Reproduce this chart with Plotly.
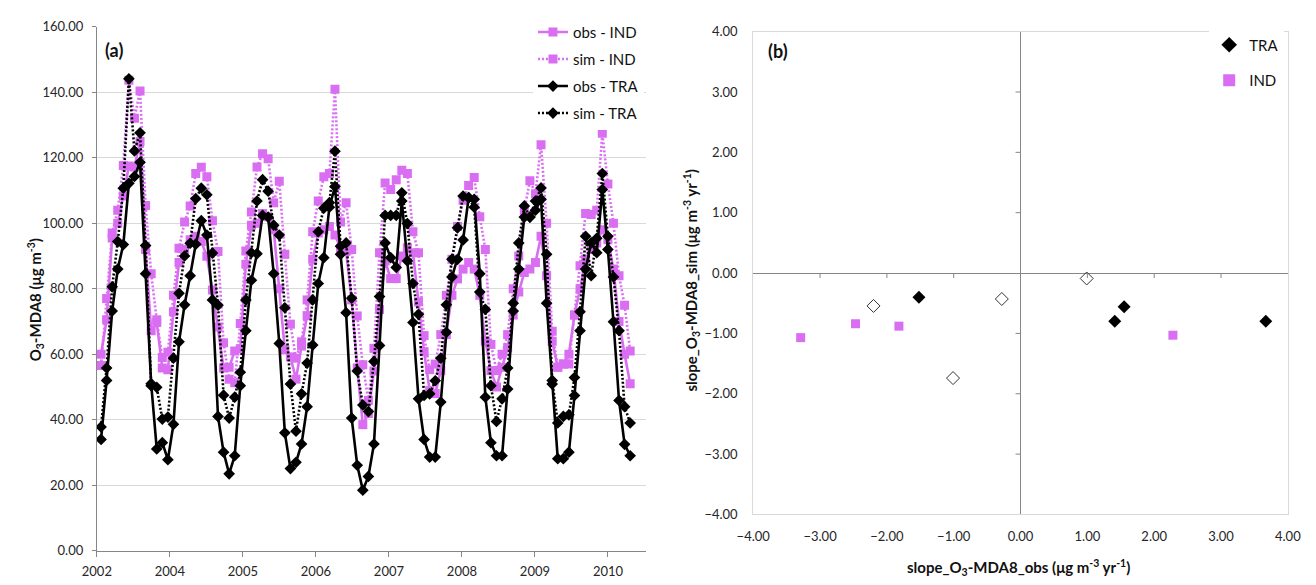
import plotly.graph_objects as go

W, H = 1316, 585

# ---------------- Panel (a): monthly O3-MDA8 series ----------------
obs_tra = [34, 52, 73.2, 86, 93.5, 112.2, 114.3, 118.6, 84.6, 51, 31.1, 33, 27.8,
           38.6, 63.8, 75.1, 84, 93.6, 100.8, 96.4, 76.6, 41, 30.1, 23.5,
           29, 50.4, 67.2, 82.6, 90.7, 102.4, 101.9, 84.6, 63.3, 36, 25.1,
           27, 32.6, 44, 62.8, 81.6, 89.5, 104.9, 111.2, 90.5, 72.7, 40.5, 26.1, 18.5,
           22.7, 32.6, 62.7, 94, 89.5, 86.5, 106.8, 88.5, 69.7, 46.4, 34, 28.6, 28.6,
           45.4, 66.7, 83.6, 89, 94.9, 107.8, 107.3, 84.6, 46.9, 33, 29, 29,
           49.4, 73.2, 86, 101.9, 101.9, 104, 107.3, 75.6, 50.9, 28.1, 28.1,
           30.1, 47.4, 67.2, 86, 94, 91, 110.3, 92, 69.9, 45.9, 32.5, 29]
sim_tra = [37.8, 55.8, 80.6, 94.4, 110.7, 144.1, 122.1, 127.6, 93.2, 50.4, 49.9, 40.2, 40.8,
           58.8, 78.6, 90, 93.9, 107.5, 110.7, 108.7, 90.9, 75, 47.5, 40.5,
           46.9, 54.5, 76.6, 91, 106.8, 113.3, 109.8, 99.4, 96.4, 74.2, 50.9,
           36.5, 47.9, 57.3, 76.6, 97.4, 104.6, 106.3, 122, 93, 94, 77.1, 54.9, 44.5,
           42.5, 57.8, 77.6, 102.4, 102.4, 102.4, 109.3, 99.9, 81.6, 72.2, 47.4, 47.9, 51.9,
           58.8, 75.1, 89, 98.6, 108.3, 107.8, 104.9, 79, 73.7, 50.4, 39.5, 46.4,
           55.8, 75.6, 94, 105.3, 101.9, 106.8, 110.8, 90.5, 52, 39, 41,
           41.5, 52.9, 73, 96, 84, 95.4, 115.2, 96, 83.6, 67.2, 44, 39]
obs_ind = [60, 70.5, 95.5, 100, 108.3, 117.5, 117.2, 125, 92, 67.2, 69.7, 55.8, 55.3,
           73, 88, 92, 95, 96, 94.4, 89.9, 79.6, 68.3, 55.8, 56,
           61, 61.7, 87.5, 99.4, 100, 103, 102, 98, 80, 61.4, 59.2,
           52.4, 62.5, 71.8, 89, 97, 98, 99, 96.4, 92.4, 91.4, 76.6, 55.8, 38.5,
           41.9, 54.9, 73.7, 88.5, 83.1, 83.1, 90, 92.5, 91, 76, 60.8, 48.9, 48,
           55, 66, 78, 83, 86, 88, 86, 78, 64, 55, 50, 56,
           62, 72, 79, 85, 86, 88, 96, 84, 64, 56, 57,
           60, 72, 80, 89, 92, 94, 98, 95, 86, 70, 60, 51]
sim_ind = [56.6, 77, 97, 104, 117.6, 143.7, 132.1, 140.4, 105.4, 84.6, 70.5, 59, 60.6,
           78, 92.4, 100.4, 105.3, 115.2, 117.1, 114.2, 100.8, 91.4, 63.5, 52.4,
           51.3, 69.4, 91.5, 103.4, 117.2, 121.2, 119.7, 106.3, 112.8, 90.5, 69.2,
           58.8, 63.8, 76.6, 97.4, 106.8, 114.2, 115.2, 140.9, 100.4, 106.3, 92, 71.7, 56.8,
           45.9, 61.8, 91, 112.3, 110.3, 113.3, 116.2, 115.2, 97.4, 91, 65.7, 55.3, 57,
           66, 78, 89, 99, 107, 111.5, 114, 102, 92, 63, 55, 60,
           66, 80, 90, 104, 113, 109, 124, 100, 67, 56, 57,
           57, 72, 87, 103, 102.7, 104, 127.5, 112, 100, 84, 75, 61]
year_labels = ["2002", "2004", "2005", "2006", "2007", "2008", "2009", "2010"]

# ---------------- Panel (b): slopes ----------------
tra_obs_slope = [-1.52, 1.41, 1.55, 3.67]
tra_sim_slope = [-0.40, -0.80, -0.56, -0.80]
ind_obs_slope = [-3.29, -2.47, -1.82, 2.28]
ind_sim_slope = [-1.07, -0.84, -0.88, -1.03]
oth_obs_slope = [-2.20, -1.01, -0.28, 0.99]
oth_sim_slope = [-0.545, -1.74, -0.43, -0.09]

PINK = "#DA6EF2"
BLACK = "#000000"
FONT = "Lato"

idx = list(range(len(obs_tra)))
first_tick, label_step = -0.755, 13.11
tick_pos = [first_tick + k * label_step for k in range(len(year_labels))]

fig = go.Figure()

def series(y, name, color, dash, symbol, size):
    fig.add_trace(go.Scatter(
        x=idx, y=y, name=name, mode="lines+markers",
        line=dict(color=color, width=2.6, dash=dash),
        marker=dict(symbol=symbol, size=size, color=color, line=dict(width=0)),
        xaxis="x", yaxis="y", legend="legend", legendgroup=name))

series(obs_ind, "obs - IND", PINK, "solid", "square", 9)
series(sim_ind, "sim - IND", PINK, "2px,2px", "square", 9)
series(obs_tra, "obs - TRA", BLACK, "solid", "diamond", 9)
series(sim_tra, "sim - TRA", BLACK, "2px,2px", "diamond", 9)

fig.add_trace(go.Scatter(x=tra_obs_slope, y=tra_sim_slope, mode="markers", name="TRA",
                         marker=dict(symbol="diamond", size=10, color=BLACK),
                         xaxis="x2", yaxis="y2", legend="legend2", legendgroup="TRA"))
fig.add_trace(go.Scatter(x=ind_obs_slope, y=ind_sim_slope, mode="markers", name="IND",
                         marker=dict(symbol="square", size=9, color=PINK),
                         xaxis="x2", yaxis="y2", legend="legend2", legendgroup="IND"))
fig.add_trace(go.Scatter(x=oth_obs_slope, y=oth_sim_slope, mode="markers", name="other",
                         marker=dict(symbol="diamond-open", size=10, color="#333333",
                                     line=dict(width=1)),
                         xaxis="x2", yaxis="y2", showlegend=False))

def px(xp):
    return xp / W

def py(yp):
    return 1 - yp / H

AX = "#868686"
GRID = "#D9D9D9"
TXT = "#262626"

shapes = []
for t in [-3, -2, -1, 1, 2, 3]:
    shapes.append(dict(type="line", xref="x2", yref="y2", x0=t, x1=t,
                       ysizemode="pixel", yanchor=0, y0=0, y1=-5,
                       line=dict(color=AX, width=1)))
    shapes.append(dict(type="line", xref="x2", yref="y2", y0=t, y1=t,
                       xsizemode="pixel", xanchor=0, x0=-5, x1=0,
                       line=dict(color=AX, width=1)))

def note(text, x, y, size, angle=0):
    return dict(text=text, x=px(x), y=py(y), xref="paper", yref="paper",
                xanchor="center", yanchor="middle", showarrow=False, textangle=angle,
                font=dict(size=size, family=FONT, color="#111"))

ann = [
    note("<b>(a)</b>", 99, 43, 18),
    note("<b>(b)</b>", 779, 44, 18),
    note("<b>O<sub>3</sub>-MDA8 (μg m<sup>-3</sup>)</b>", 19, 300, 15, -90),
    note("<b>slope_O<sub>3</sub>-MDA8_sim (μg m<sup>-3</sup> yr<sup>-1</sup>)</b>", 690, 280, 15, -90),
    note("<b>slope_O<sub>3</sub>-MDA8_obs (μg m<sup>-3</sup> yr<sup>-1</sup>)</b>", 1025, 575, 15),
]

fig.update_layout(
    width=W, height=H, margin=dict(l=0, r=0, t=0, b=0),
    paper_bgcolor="white", plot_bgcolor="white",
    font=dict(family=FONT, color=TXT),
    showlegend=True,
    xaxis=dict(domain=[px(81.7), px(644)], range=[first_tick, 97.9],
               tickvals=tick_pos, ticktext=year_labels, showgrid=False, zeroline=False,
               showline=True, linecolor=AX, linewidth=1, ticks="outside", ticklen=5,
               tickcolor=AX, tickfont=dict(size=13, family=FONT, color=TXT),
               ticklabelstandoff=4, anchor="y"),
    yaxis=dict(domain=[py(558), py(19.3)], range=[0, 160], dtick=20, tickformat=".2f",
               showgrid=True, gridcolor=GRID, gridwidth=1, zeroline=False,
               showline=True, linecolor=AX, linewidth=1, ticks="outside", ticklen=4,
               tickcolor=AX, tickfont=dict(size=13, family=FONT, color=TXT),
               ticklabelstandoff=6, anchor="x"),
    xaxis2=dict(domain=[px(753.4), px(1300.5)], range=[-4, 4], dtick=1, tickformat=".2f",
                showgrid=False, zeroline=True, zerolinecolor=AX, zerolinewidth=1,
                showline=True, mirror=True, linecolor=GRID, linewidth=1, ticks="",
                tickfont=dict(size=13, family=FONT, color=TXT), ticklabelstandoff=10,
                anchor="y2"),
    yaxis2=dict(domain=[py(520.7), py(24.3)], range=[-4, 4], dtick=1, tickformat=".2f",
                showgrid=False, zeroline=True, zerolinecolor=AX, zerolinewidth=1,
                showline=True, mirror=True, linecolor=GRID, linewidth=1, ticks="",
                tickfont=dict(size=13, family=FONT, color=TXT), ticklabelstandoff=12,
                anchor="x2"),
    legend=dict(x=px(528), y=py(8), xanchor="left", yanchor="top",
                bgcolor="white", borderwidth=0, traceorder="grouped",
                tracegroupgap=4.5, font=dict(size=15, family=FONT, color="#111")),
    legend2=dict(x=px(1220), y=py(21), xanchor="left", yanchor="top",
                 bgcolor="white", borderwidth=0, traceorder="grouped", tracegroupgap=13,
                 font=dict(size=15, family=FONT, color="#111"),
                 itemsizing="constant"),
    shapes=shapes, annotations=ann,
)

fig.write_html("out.html")
